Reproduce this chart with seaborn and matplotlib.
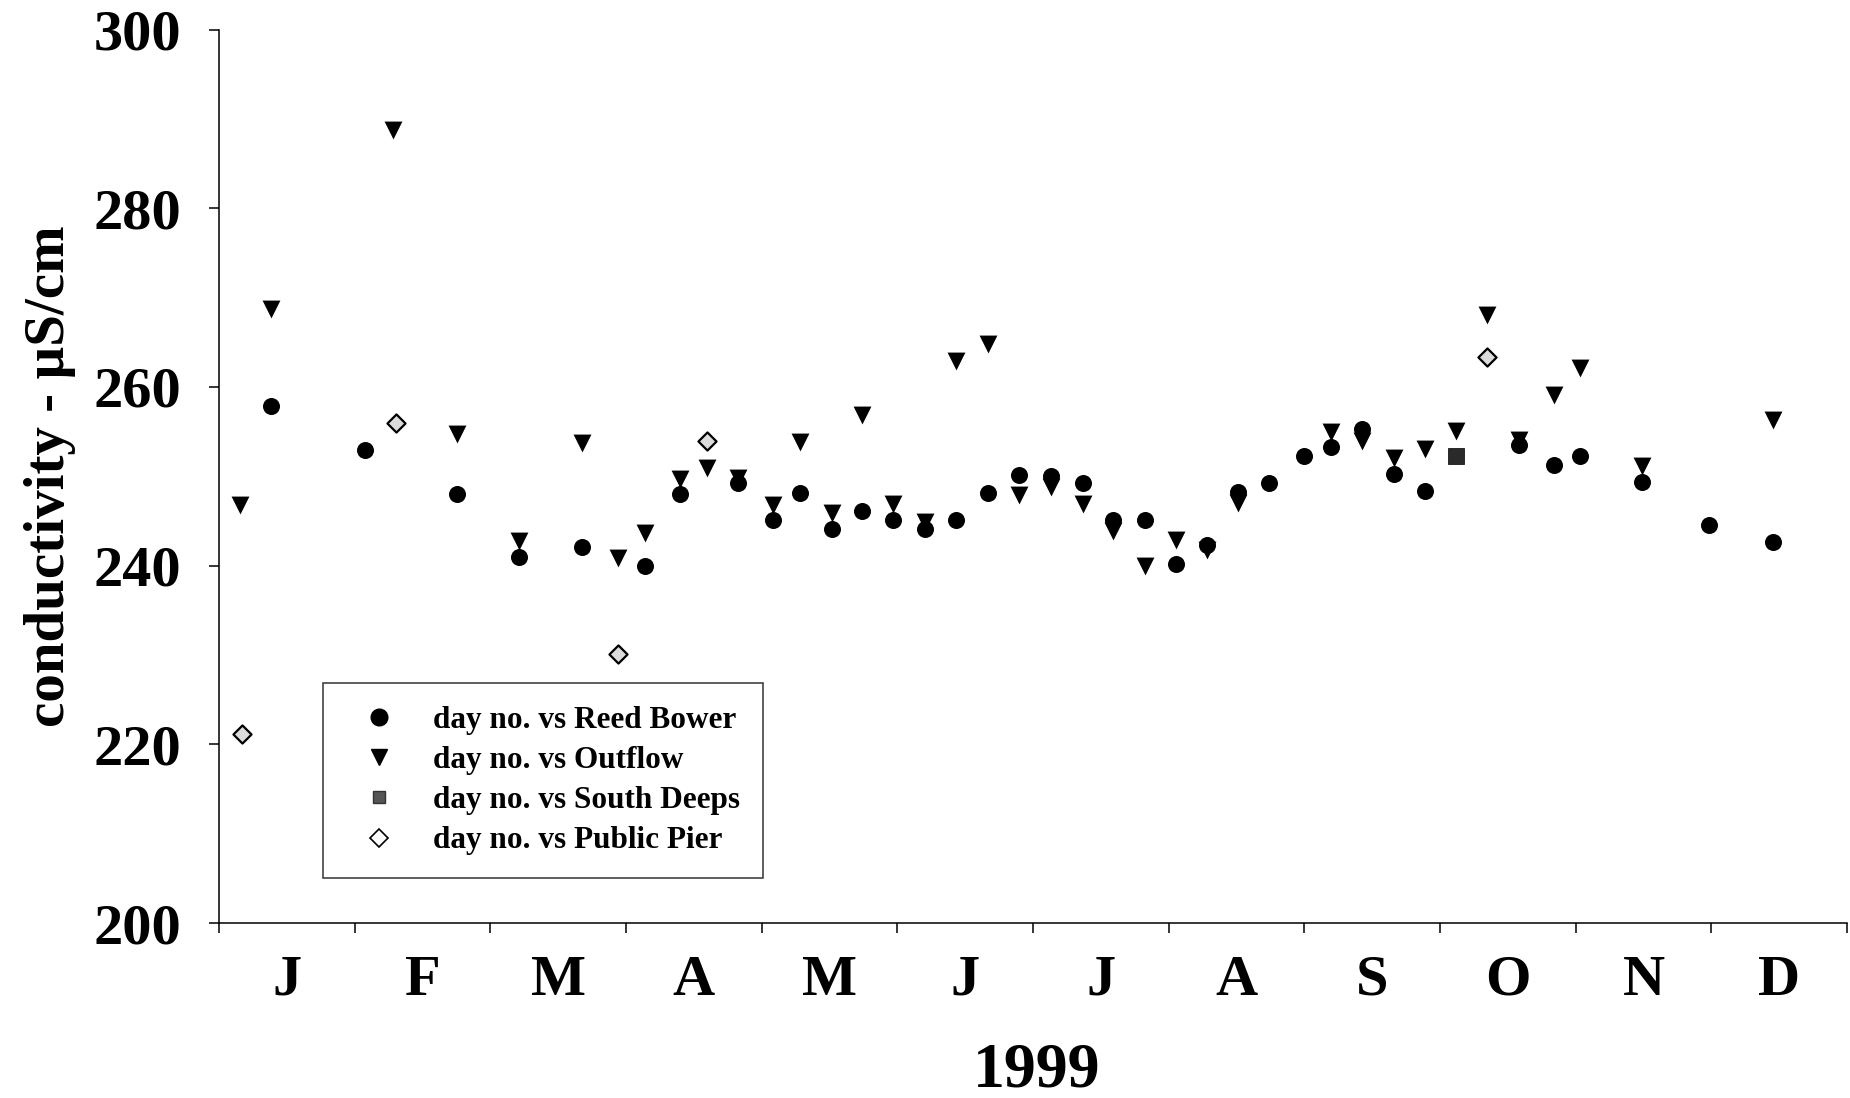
import matplotlib
matplotlib.use("Agg")
import matplotlib.pyplot as plt
import seaborn as sns
import pandas as pd
from matplotlib.lines import Line2D

# ---------------- data (day number of 1999, conductivity uS/cm) ----------------
rb_day = [11.6, 32.7, 53.4, 67.3, 81.3, 95.4, 103.4, 116.3, 124.3, 130.3, 137.4, 144.2,
          151.2, 158.3, 165.2, 172.3, 179.3, 186.5, 193.6, 200.5, 207.6, 214.5, 221.4, 228.4,
          235.4, 243.3, 249.3, 256.3, 263.5, 270.4, 291.5, 299.3, 305.2, 319.1, 334.1, 348.3]
rb_val = [257.9, 252.9, 248.0, 241.0, 242.1, 240.0, 248.0, 249.2, 245.1, 248.1, 244.1, 246.1,
          245.1, 244.1, 245.1, 248.1, 250.1, 250.0, 249.2, 245.1, 245.1, 240.2, 242.3, 248.2,
          249.3, 252.3, 253.3, 255.3, 250.3, 248.3, 253.5, 251.3, 252.3, 249.4, 244.5, 242.6]

of_day = [4.7, 11.6, 39.0, 53.4, 67.3, 81.3, 89.4, 95.4, 103.4, 109.3, 116.3, 124.3, 130.3,
          137.4, 144.2, 151.2, 158.3, 165.2, 172.3, 179.3, 186.5, 193.6, 200.5, 207.6, 214.5,
          221.4, 228.4, 249.3, 256.3, 263.5, 270.4, 277.3, 284.3, 291.5, 299.3, 305.2, 319.1, 348.3]
of_val = [246.8, 268.7, 288.7, 254.7, 242.7, 253.7, 240.8, 243.7, 249.7, 250.9, 249.8, 246.8,
          253.8, 245.9, 256.8, 246.9, 244.9, 262.9, 264.8, 247.9, 248.8, 246.9, 243.9, 239.9,
          242.9, 241.8, 247.0, 255.0, 253.9, 252.0, 253.1, 255.1, 268.0, 254.1, 259.1, 262.1,
          251.1, 256.3]

sd_day = [277.3]
sd_val = [252.3]

pp_day = [5.1, 39.6, 89.4, 109.3, 284.3]
pp_val = [221.1, 256.0, 230.1, 254.0, 263.3]

months = ["J", "F", "M", "A", "M", "J", "J", "A", "S", "O", "N", "D"]
y_ticks = [200, 220, 240, 260, 280, 300]
labels = ["day no. vs Reed Bower", "day no. vs Outflow",
          "day no. vs South Deeps", "day no. vs Public Pier"]

# ---------------- style ----------------
sns.set_style("ticks")
plt.rcParams["font.family"] = ["Liberation Serif", "DejaVu Serif"]
plt.rcParams["font.weight"] = "bold"
for key in ["text.color", "axes.labelcolor", "xtick.color", "ytick.color", "axes.edgecolor"]:
    plt.rcParams[key] = "black"

W, H = 1850, 1098
fig = plt.figure(figsize=(W / 100, H / 100), dpi=100)
ax = fig.add_axes([219 / W, 1 - 923 / H, 1628 / W, 893.5 / H])

sns.scatterplot(x=of_day, y=of_val, marker="v", s=165, color="black",
                edgecolor="black", linewidth=0, ax=ax, zorder=3)
sns.scatterplot(x=rb_day, y=rb_val, marker="o", s=150, color="black",
                edgecolor="black", linewidth=0, ax=ax, zorder=4)
sns.scatterplot(x=sd_day, y=sd_val, marker="s", s=140, color="#2a2a2a",
                edgecolor="black", linewidth=0.5, ax=ax, zorder=5)
sns.scatterplot(x=pp_day, y=pp_val, marker="D", s=85, color="#dcdcdc",
                edgecolor="black", linewidth=1.6, ax=ax, zorder=6)

ax.set_xlim(0, 365)
ax.set_ylim(200, 300)

month_len = 365 / 12
ax.set_xticks([i * month_len for i in range(13)])
ax.set_xticklabels([])
ax.set_xticks([(i + 0.5) * month_len for i in range(12)], minor=True)
ax.set_xticklabels(months, minor=True, fontsize=42, fontweight="bold")
ax.tick_params(axis="x", which="minor", length=0, pad=23)
ax.tick_params(axis="x", which="major", direction="out", length=7, width=1.1)

ax.set_yticks(y_ticks)
ax.set_yticklabels([str(v) for v in y_ticks], fontsize=42, fontweight="bold")
ax.tick_params(axis="y", direction="out", length=7, width=1.1, pad=20)

for side in ["top", "right"]:
    ax.spines[side].set_visible(False)
for side in ["left", "bottom"]:
    ax.spines[side].set_linewidth(1.1)
    ax.spines[side].set_color("black")

ax.set_ylabel("conductivity - \u00b5S/cm", fontsize=41, fontweight="bold", va="center")
ax.yaxis.set_label_coords(-0.1040, 0.5)
ax.set_xlabel("1999", fontsize=46, fontweight="bold", va="center")
ax.xaxis.set_label_coords(0.502, -0.166)

handles = [
    Line2D([], [], linestyle="none", marker="o", markersize=12, color="black"),
    Line2D([], [], linestyle="none", marker="v", markersize=12, color="black"),
    Line2D([], [], linestyle="none", marker="s", markersize=8, markerfacecolor="#555555",
           markeredgecolor="#333333"),
    Line2D([], [], linestyle="none", marker="D", markersize=9, markerfacecolor="white",
           markeredgecolor="black", markeredgewidth=1.2),
]
leg = ax.legend(handles, labels, loc="lower left", bbox_to_anchor=(0.0639, 0.0504),
                borderaxespad=0, prop={"weight": "bold", "size": 22.5},
                frameon=True, fancybox=False, shadow=False, borderpad=0.72,
                handlelength=2.16, handletextpad=0.65, labelspacing=0.36)
leg.get_frame().set_edgecolor("black")
leg.get_frame().set_linewidth(1.1)

fig.savefig("out.png", dpi=100, facecolor="white")
